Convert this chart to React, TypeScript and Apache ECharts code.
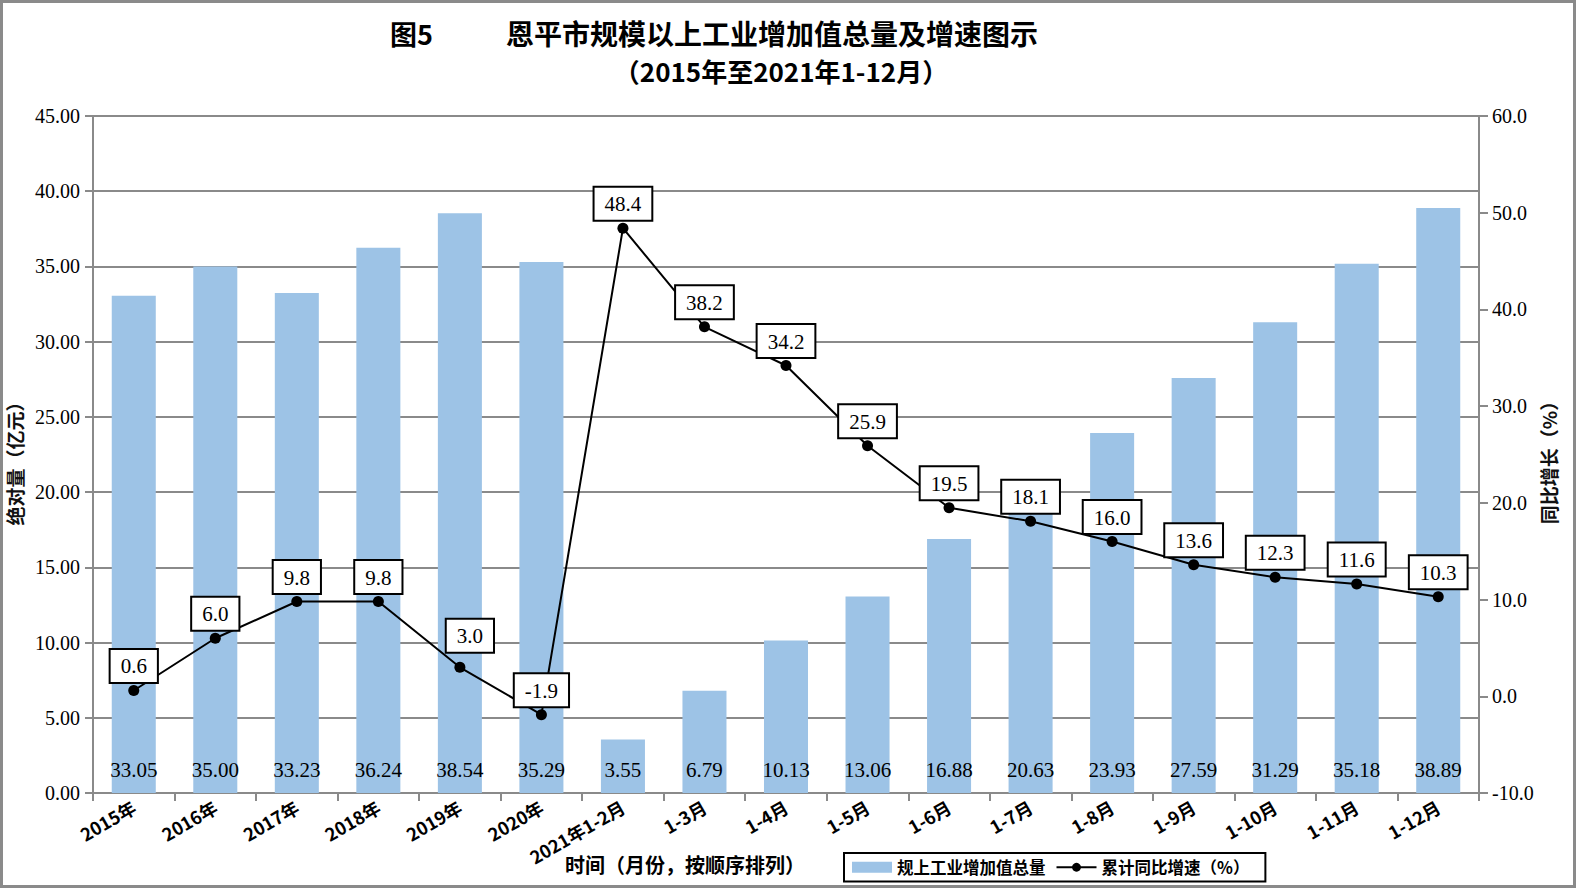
import React, { useEffect, useRef } from "react";
import * as echarts from "echarts";

const categories = [
  "2015年", "2016年", "2017年", "2018年", "2019年", "2020年",
  "2021年1-2月", "1-3月", "1-4月", "1-5月", "1-6月", "1-7月",
  "1-8月", "1-9月", "1-10月", "1-11月", "1-12月",
];
const totalValues = [
  33.05, 35.0, 33.23, 36.24, 38.54, 35.29, 3.55, 6.79, 10.13,
  13.06, 16.88, 20.63, 23.93, 27.59, 31.29, 35.18, 38.89,
];
const growthValues = [
  0.6, 6.0, 9.8, 9.8, 3.0, -1.9, 48.4, 38.2, 34.2,
  25.9, 19.5, 18.1, 16.0, 13.6, 12.3, 11.6, 10.3,
];
const barName = "规上工业增加值总量";
const lineName = "累计同比增速（%）";
const titleLabel = "图5";
const titleMain = "恩平市规模以上工业增加值总量及增速图示";
const subTitle = "（2015年至2021年1-12月）";
const leftAxisName = "绝对量（亿元）";
const rightAxisName = "同比增长（%）";
const xAxisName = "时间（月份，按顺序排列）";

const SERIF = "'Liberation Serif', 'DejaVu Serif', serif";
const CJK = "'Noto Sans CJK SC', sans-serif";
const NARROW = "'Liberation Sans Narrow', 'Noto Sans CJK SC', sans-serif";
const GRID_GREY = "#8a8a8a";

export default function App() {
  const ref = useRef<HTMLDivElement>(null);
  useEffect(() => {
    if (!ref.current) return;
    const chart = echarts.init(ref.current, undefined, { renderer: "svg" });
    const lineData = growthValues.map((v, i) =>
      i === 4
        ? { value: v, label: { offset: [10, -7] } }
        : { value: v }
    );
    chart.setOption({
      animation: false,
      backgroundColor: "#ffffff",
      grid: { left: 93, right: 97, top: 116, bottom: 95, containLabel: false },
      legend: {
        left: 844,
        top: 853,
        orient: "horizontal",
        borderColor: "#000",
        borderWidth: 2,
        padding: [6, 16, 6, 8],
        itemGap: 10,
        itemWidth: 40,
        itemHeight: 11,
        textStyle: { fontFamily: CJK, fontSize: 16.5, fontWeight: "bold", color: "#000" },
        data: [
          { name: barName, icon: "rect" },
          { name: lineName },
        ],
      },
      graphic: [
        {
          type: "rect",
          shape: { x: 1.5, y: 1.5, width: 1573, height: 885 },
          style: { fill: "none", stroke: GRID_GREY, lineWidth: 3 },
          silent: true,
        },
        {
          type: "text",
          x: 390,
          y: 33,
          style: {
            text: titleLabel, fontFamily: CJK, fontSize: 27, fontWeight: "bold",
            fill: "#000", verticalAlign: "middle", align: "left",
          },
        },
        {
          type: "text",
          x: 506,
          y: 33,
          style: {
            text: titleMain, fontFamily: CJK, fontSize: 28, fontWeight: "bold",
            fill: "#000", verticalAlign: "middle", align: "left",
          },
        },
        {
          type: "text",
          x: 781,
          y: 70,
          style: {
            text: subTitle, fontFamily: CJK, fontSize: 26, fontWeight: "bold",
            fill: "#000", verticalAlign: "middle", align: "center",
          },
        },
        {
          type: "text",
          x: 14,
          y: 459,
          rotation: Math.PI / 2,
          style: {
            text: leftAxisName, fontFamily: CJK, fontSize: 19, fontWeight: "bold",
            fill: "#111", verticalAlign: "middle", align: "center",
          },
        },
        {
          type: "text",
          x: 1548,
          y: 458,
          rotation: Math.PI / 2,
          style: {
            text: rightAxisName, fontFamily: CJK, fontSize: 19, fontWeight: "bold",
            fill: "#111", verticalAlign: "middle", align: "center",
          },
        },
        {
          type: "text",
          x: 565,
          y: 864,
          style: {
            text: xAxisName, fontFamily: CJK, fontSize: 20, fontWeight: "bold",
            fill: "#000", verticalAlign: "middle", align: "left",
          },
        },
      ],
      xAxis: {
        type: "category",
        data: categories,
        boundaryGap: true,
        axisLine: { lineStyle: { color: GRID_GREY, width: 2 } },
        axisTick: { show: true, length: 8, lineStyle: { color: GRID_GREY, width: 2 } },
        axisLabel: {
          interval: 0,
          rotate: 30,
          margin: 12,
          fontFamily: NARROW,
          fontSize: 18,
          fontWeight: "bold",
          color: "#000",
        },
      },
      yAxis: [
        {
          type: "value",
          min: 0,
          max: 45,
          interval: 5,
          axisLine: { show: true, lineStyle: { color: GRID_GREY, width: 2 } },
          axisTick: { show: true, length: 8, lineStyle: { color: GRID_GREY, width: 2 } },
          splitLine: { show: true, lineStyle: { color: GRID_GREY, width: 2 } },
          axisLabel: {
            margin: 13,
            fontFamily: SERIF,
            fontSize: 20,
            color: "#000",
            formatter: (v: number) => v.toFixed(2),
          },
        },
        {
          type: "value",
          min: -10,
          max: 60,
          interval: 10,
          position: "right",
          axisLine: { show: true, lineStyle: { color: GRID_GREY, width: 2 } },
          axisTick: { show: true, length: 9, lineStyle: { color: GRID_GREY, width: 2 } },
          splitLine: { show: false },
          axisLabel: {
            margin: 13,
            fontFamily: SERIF,
            fontSize: 20,
            color: "#000",
            formatter: (v: number) => v.toFixed(1),
          },
        },
      ],
      series: [
        {
          name: barName,
          type: "bar",
          yAxisIndex: 0,
          data: totalValues,
          barCategoryGap: "46%",
          itemStyle: { color: "#9DC3E6" },
          label: {
            show: true,
            position: "insideBottom",
            distance: 13,
            fontFamily: SERIF,
            fontSize: 21,
            color: "#000",
            formatter: (p: any) => Number(p.value).toFixed(2),
          },
          z: 2,
        },
        {
          name: lineName,
          type: "line",
          yAxisIndex: 1,
          data: lineData,
          symbol: "circle",
          symbolSize: 11,
          itemStyle: { color: "#000" },
          lineStyle: { color: "#000", width: 2 },
          label: {
            show: true,
            position: "top",
            distance: 3,
            fontFamily: SERIF,
            fontSize: 21,
            lineHeight: 23,
            color: "#000",
            backgroundColor: "#fff",
            borderColor: "#000",
            borderWidth: 2,
            padding: [5, 10, 4, 10],
            formatter: (p: any) => Number(p.value).toFixed(1),
          },
          z: 5,
        },
      ],
    });
    return () => chart.dispose();
  }, []);
  return (
    <div
      ref={ref}
      style={{ position: "fixed", left: 0, top: 0, width: 1576, height: 888, background: "#fff" }}
    />
  );
}
